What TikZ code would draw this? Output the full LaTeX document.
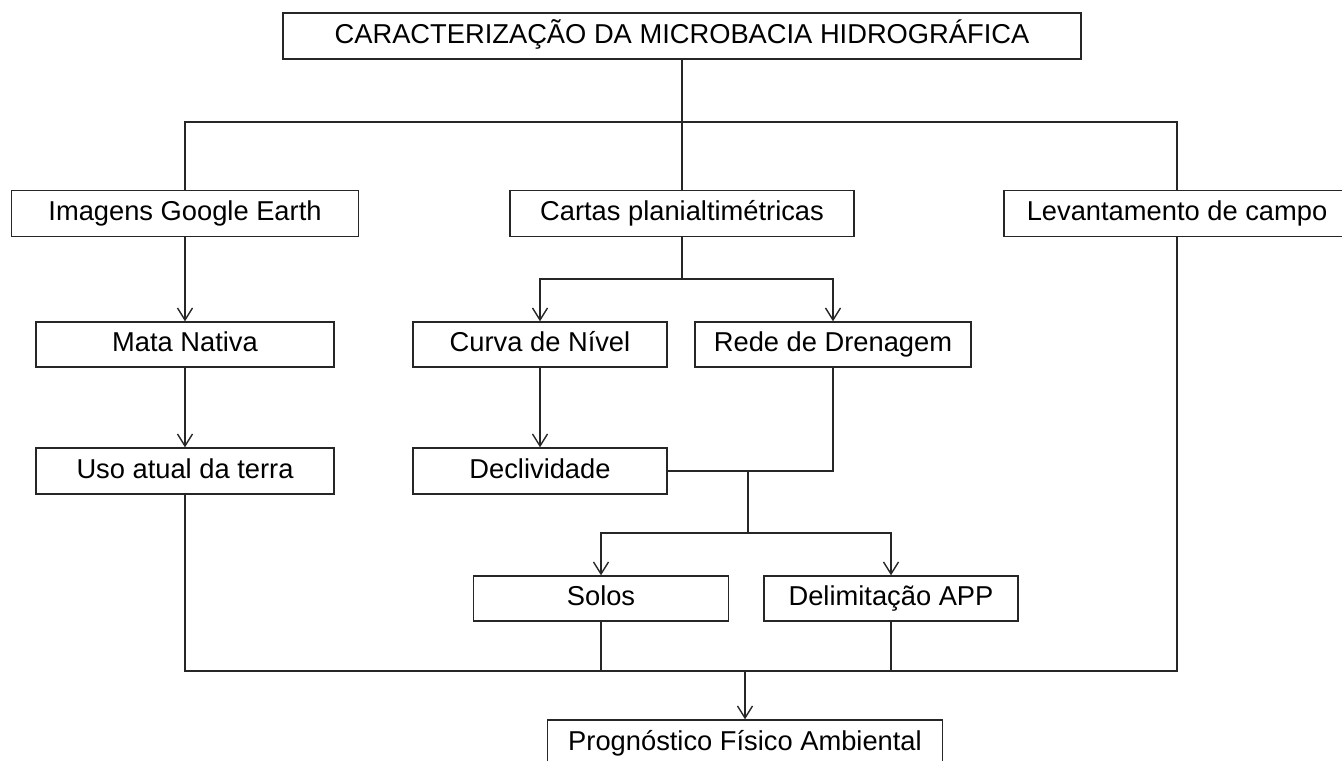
\documentclass[tikz,border=0pt]{standalone}
\usepackage{fontspec}
\setmainfont{Liberation Sans}
\usetikzlibrary{arrows.meta,positioning}
\tikzset{block/.style={
    % The shape:
    rectangle,
    % The size:
    minimum height=23pt,
    inner sep=0pt,
    % The border:
    draw=black!85,
    line width=0.7pt,
    % Font
    font=\fontsize{13.65}{16}\selectfont,
    text height=0.72em,
    text depth=0pt,
    },
    link/.style={
    draw=black!85,
    line width=0.7pt,
    },
    arrowlink/.style={
    link,
    -{Straight Barb[length=6pt,width=7.5pt]},
    },
}

\begin{document}
\begin{tikzpicture}[x=0.5pt,y=-0.5pt]
    \useasboundingbox (0,0) rectangle (1342,760);
    \clip (0,0) rectangle (1342,760);

    \node (title)   [block,minimum width=399pt]   at (682,36)    {CARACTERIZAÇÃO DA MICROBACIA HIDROGRÁFICA};

    \node (imagens) [block,minimum width=173.5pt] at (185,213.5) {Imagens Google Earth};
    \node (cartas)  [block,minimum width=172pt]   at (682,213.5) {Cartas planialtimétricas};
    \node (levant)  [block,minimum width=173pt]   at (1177,213.5) {Levantamento de campo};

    \node (mata)    [block,minimum width=149pt,minimum height=22.5pt] at (185,344.5) {Mata Nativa};
    \node (curva)   [block,minimum width=127pt,minimum height=22.5pt] at (540,344.5) {Curva de Nível};
    \node (rede)    [block,minimum width=138pt,minimum height=22.5pt] at (833,344.5) {Rede de Drenagem};

    \node (uso)     [block,minimum width=149pt]   at (185,471)   {Uso atual da terra};
    \node (decl)    [block,minimum width=127pt]   at (540,471)   {Declividade};

    \node (solos)   [block,minimum width=127.5pt,minimum height=22.5pt] at (601,598.5) {Solos};
    \node (app)     [block,minimum width=127pt,minimum height=22.5pt]   at (891,598.5) {Delimitação APP};

    \node (prog)    [block,minimum width=197.5pt] at (745,743)   {Prognóstico Físico Ambiental};

    % junctions
    \coordinate (topbar)  at (682,122);
    \coordinate (cartbar) at (682,279);
    \coordinate (merge)   at (748,471);
    \coordinate (split)   at (748,533);
    \coordinate (botbar)  at (745,671);

    \path[link] (title) edge (cartas);
    \draw[link] (imagens.north) |- (topbar) -| (levant.north);

    \draw[arrowlink] (imagens) -- (mata);
    \draw[arrowlink] (mata) -- (uso);

    \draw[link] (cartas) -- (cartbar);
    \draw[arrowlink] (cartbar) -| (curva.north);
    \draw[arrowlink] (cartbar) -| (rede.north);
    \draw[arrowlink] (curva) -- (decl);

    \draw[link] (decl.east) -| (rede.south);
    \draw[link] (merge) -- (split);
    \draw[arrowlink] (split) -| (solos.north);
    \draw[arrowlink] (split) -| (app.north);

    \draw[link] (uso.south) |- (botbar) -| (levant.south);
    \draw[link] (solos.south) -- (solos.south |- botbar);
    \draw[link] (app.south) -- (app.south |- botbar);
    \draw[arrowlink] (botbar) -- (prog.north);
\end{tikzpicture}
\end{document}
